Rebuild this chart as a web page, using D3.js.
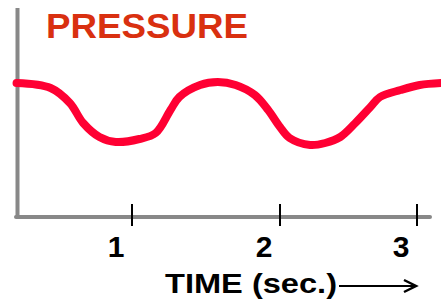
<!DOCTYPE html>
<html>
<head>
<meta charset="utf-8">
<script src="https://d3js.org/d3.v7.min.js"></script>
<style>
  body { margin: 0; background: #fff; }
  text { font-family: "Liberation Sans", Arial, sans-serif; font-weight: bold; }
</style>
</head>
<body>
<svg width="441" height="306"></svg>
<script>
// time in seconds, pressure in arbitrary units
const times = [0.22, 0.45, 0.58, 0.67, 0.78, 0.89, 1.05, 1.16, 1.26, 1.32, 1.46, 1.58,
               1.70, 1.83, 1.92, 2.00, 2.07, 2.22, 2.33, 2.44, 2.55, 2.66, 2.73, 2.88, 3.02, 3.18];
const pressure = [67, 64.5, 57, 47, 40, 37.5, 39, 42, 53.5, 60, 66, 67.5,
                  66, 61, 53.5, 45, 39.5, 36, 37, 40, 47, 55, 60, 63.5, 66, 67];
const tickValues = [1, 2, 3];
const title = "PRESSURE";
const xTitle = "TIME (sec.)";

const svg = d3.select("svg");

var x = d3.scaleLinear().domain([1, 2, 3]).range([132, 280, 417]);
var y = d3.scaleLinear().domain([0, 100]).range([217, 17]);

// axes
svg.append("line")
  .attr("x1", 17.5).attr("x2", 17.5)
  .attr("y1", 8).attr("y2", y(0))
  .attr("stroke", "#888").attr("stroke-width", 4);

svg.append("line")
  .attr("x1", 16).attr("x2", 430)
  .attr("y1", y(0)).attr("y2", y(0))
  .attr("stroke", "#888").attr("stroke-width", 4)
  .attr("stroke-linecap", "round");

// ticks
svg.selectAll(".tick")
  .data(tickValues)
  .enter().append("line")
  .attr("class", "tick")
  .attr("x1", d => x(d)).attr("x2", d => x(d))
  .attr("y1", 204).attr("y2", 226)
  .attr("stroke", "#000").attr("stroke-width", 2);

svg.selectAll(".ticklabel")
  .data(tickValues)
  .enter().append("text")
  .attr("class", "ticklabel")
  .attr("x", d => x(d) - 16)
  .attr("y", 257)
  .attr("text-anchor", "middle")
  .style("font-size", "30px")
  .attr("fill", "#000")
  .text(d => d);

// pressure line
var line = d3.line()
  .x(d => x(d[0]))
  .y(d => y(d[1]))
  .curve(d3.curveCatmullRom);

svg.append("path")
  .datum(times.map((t, i) => [t, pressure[i]]))
  .attr("d", line)
  .attr("fill", "none")
  .attr("stroke", "#ff0033")
  .attr("stroke-width", 8)
  .attr("stroke-linecap", "round");

// titles
svg.append("text")
  .attr("x", 46).attr("y", 38)
  .attr("fill", "#d93010")
  .style("font-size", "35px")
  .attr("textLength", 202)
  .attr("lengthAdjust", "spacingAndGlyphs")
  .text(title);

svg.append("text")
  .attr("x", 165).attr("y", 293)
  .attr("fill", "#000")
  .style("font-size", "27px")
  .attr("textLength", 172)
  .attr("lengthAdjust", "spacingAndGlyphs")
  .text(xTitle);

// arrow
svg.append("line")
  .attr("x1", 339).attr("x2", 415)
  .attr("y1", 286).attr("y2", 286)
  .attr("stroke", "#000").attr("stroke-width", 2);
svg.append("path")
  .attr("d", "M404,280 L416,286 L404,292")
  .attr("fill", "none")
  .attr("stroke", "#000").attr("stroke-width", 2.5);
</script>
</body>
</html>
